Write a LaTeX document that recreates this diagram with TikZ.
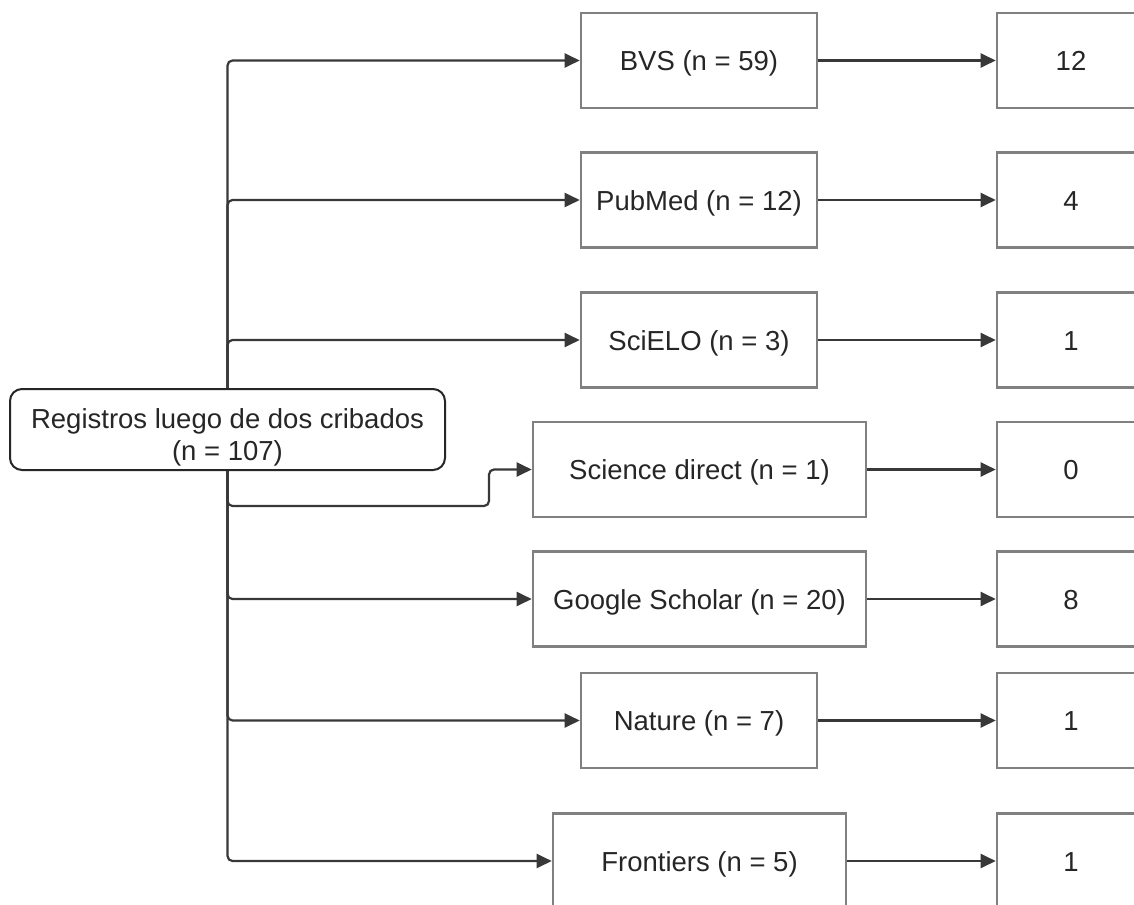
\documentclass[tikz,border=0pt]{standalone}
\usepackage{fontspec}
\setmainfont{Liberation Sans}
\usetikzlibrary{arrows.meta}
\begin{document}
\begin{tikzpicture}[x=1pt,y=-1pt,
  src/.style={draw=black!85,line width=2pt,rounded corners=12pt,minimum width=435pt,minimum height=81pt,align=center,inner sep=0pt,font=\fontsize{27.5}{32}\selectfont,text=black!85},
  db/.style={draw=black!50,line width=2.6pt,minimum height=95pt,inner sep=0pt,text height=26.5pt,text depth=5.8pt,font=\fontsize{27.5}{32}\selectfont,text=black!85},
  res/.style={db,minimum width=148pt},
  conn/.style={draw=black!78,line width=2.2pt,rounded corners=5pt,-{Triangle[length=15pt,width=14pt]}}]
\useasboundingbox (0,0) rectangle (1134,904);
\clip (0,0) rectangle (1134,904);
\fill[white] (0,0) rectangle (1134,904);
% source
\node[src] (main) at (227.5,429.5) {\raisebox{-8.5pt}[\height][\depth]{\begin{tabular}{@{}c@{}}Registros luego de dos cribados\\(n = 107)\end{tabular}}};
% databases
\node[db,minimum width=236pt] (bvs) at (699,60.5) {BVS (n = 59)};
\node[db,minimum width=236pt] (pub) at (699,200) {PubMed (n = 12)};
\node[db,minimum width=236pt] (sci) at (699,340) {SciELO (n = 3)};
\node[db,minimum width=333pt] (sd) at (699.5,469.5) {Science direct (n = 1)};
\node[db,minimum width=333pt] (gs) at (699.5,599) {Google Scholar (n = 20)};
\node[db,minimum width=236pt] (nat) at (699,720.5) {Nature (n = 7)};
\node[db,minimum width=293pt] (fro) at (699.5,861) {Frontiers (n = 5)};
% results
\node[res] (r1) at (1071,60.5) {12};
\node[res] (r2) at (1071,200) {4};
\node[res] (r3) at (1071,340) {1};
\node[res] (r4) at (1071,469.5) {0};
\node[res] (r5) at (1071,599) {8};
\node[res] (r6) at (1071,720.5) {1};
\node[res] (r7) at (1071,861) {1};
% connectors from source
\coordinate (sdA) at (main.south |- 0,506);
\coordinate (sdB) at (489,506);
\coordinate (sdC) at (489,469.5);
\draw[conn] (main.north) |- (bvs.west);
\draw[conn] (main.north) |- (pub.west);
\draw[conn] (main.north) |- (sci.west);
\draw[conn] (main.south) -- (sdA) -- (sdB) -- (sdC) -- (sd.west);
\draw[conn] (main.south) |- (gs.west);
\draw[conn] (main.south) |- (nat.west);
\draw[conn] (main.south) |- (fro.west);
% connectors to results
\foreach \a/\b in {bvs/r1,pub/r2,sci/r3,sd/r4,gs/r5,nat/r6,fro/r7}
  \draw[conn] (\a.east) -- (\b.west);
\end{tikzpicture}
\end{document}
